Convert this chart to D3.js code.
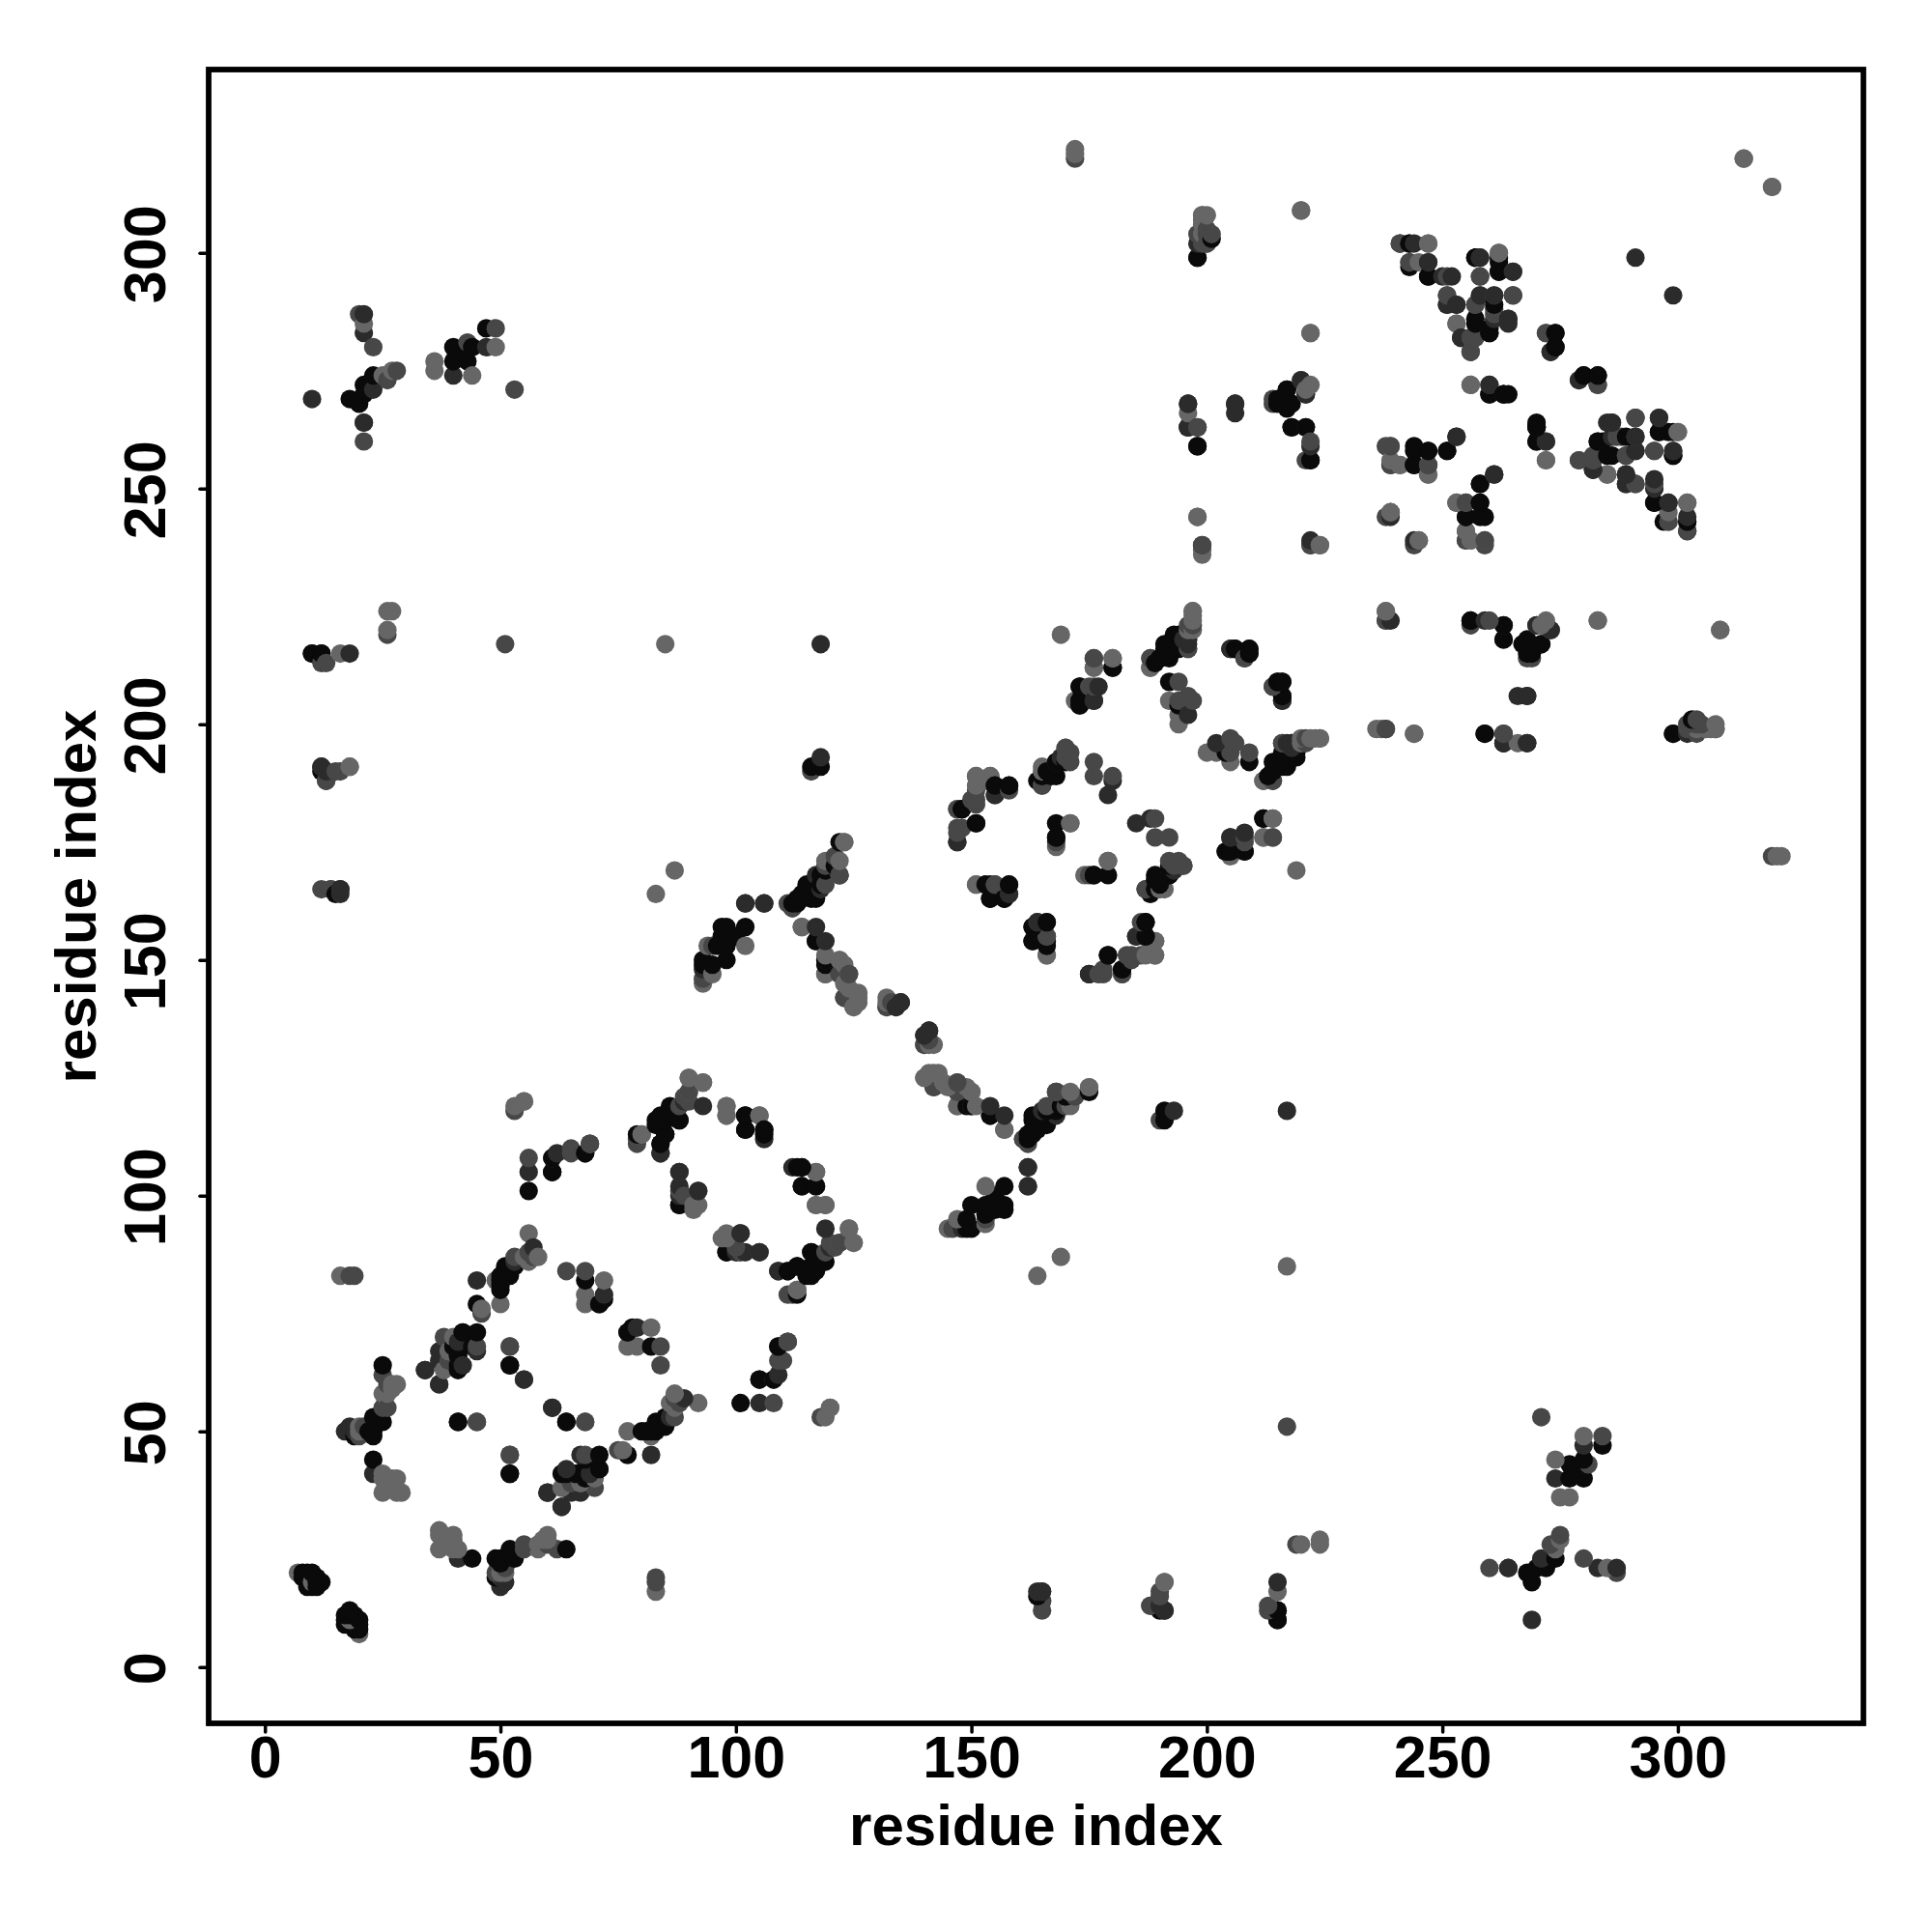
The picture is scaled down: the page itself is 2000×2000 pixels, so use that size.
<!DOCTYPE html>
<html><head><meta charset="utf-8">
<script src="https://cdn.jsdelivr.net/npm/d3@7"></script>
<style>html,body{margin:0;background:#fff}svg{display:block}text{font-family:"Liberation Sans",Arial,sans-serif;font-weight:700;fill:#000}</style>
</head><body><svg id="c" width="2000" height="2000"></svg>
<script>
const tickValues=[0,50,100,150,200,250,300];
const axisLabel="residue index";
const shades=["#0a0a0a","#2b2b2b","#474747","#666666"];
// contacts (i<j), mirrored when drawn; grouped by grey level
const contactsBlack=[[8,19],[8,20],[9,17],[9,18],[9,19],[9,20],[10,17],[10,20],[11,17],[11,18],[11,19],[12,18],[25,64],[19,49],[22,50],[23,50],[23,53],[25,52],[23,44],[23,49],[24,52],[41,63],[41,66],[42,71],[45,71],[40,68],[44,68],[41,64],[41,68],[45,77],[50,81],[50,83],[51,85],[52,83],[53,85],[51,84],[50,82],[50,80],[52,84],[41,52],[52,64],[52,41],[64,52],[68,82],[71,77],[72,78],[56,101],[61,105],[68,109],[98,157],[97,157],[102,157],[98,153],[96,153],[98,150],[95,149],[93,150],[97,155],[100,155],[93,149],[117,154],[119,149],[150,119],[154,117],[113,162],[116,163],[116,165],[118,168],[121,170],[122,175],[113,163],[114,164],[115,166],[117,165],[119,169],[112,162],[114,163],[117,163],[118,166],[86,119],[84,117],[88,116],[83,115],[85,113],[87,118],[86,117],[85,116],[87,117],[102,117],[102,114],[106,114],[106,113],[88,98],[116,88],[118,86],[115,84],[113,85],[111,84],[116,83],[113,79],[98,88],[105,61],[108,61],[117,102],[114,102],[114,106],[148,182],[155,187],[158,187],[151,179],[168,179],[168,176],[168,192],[167,189],[164,188],[166,190],[154,166],[154,163],[157,163],[163,157],[166,153],[163,154],[166,158],[173,208],[173,205],[173,204],[180,212],[190,214],[192,214],[191,217],[193,219],[194,216],[192,216],[189,213],[206,216],[209,216],[209,215],[192,209],[194,204],[216,209],[216,206],[215,209],[205,173],[208,173],[212,180],[176,168],[189,168],[189,165],[192,170],[187,158],[179,151],[182,148],[214,190],[215,192],[217,192],[219,194],[216,191],[218,193],[10,215],[12,215],[12,190],[15,164],[215,10],[215,12],[18,269],[20,268],[21,272],[21,270],[23,274],[40,280],[40,277],[43,277],[44,280],[47,284],[42,278],[198,299],[201,303],[198,259],[243,297],[247,295],[244,258],[244,255],[247,258],[251,258],[258,251],[258,247],[255,244],[259,244],[215,268],[218,268],[217,271],[216,269],[218,263],[222,256],[243,302],[257,285],[260,284],[260,283],[262,298],[262,296],[257,299],[260,270],[263,270],[264,270],[270,263],[270,260],[274,283],[274,280],[280,274],[283,274],[286,257],[283,260],[289,261],[295,247],[299,257],[299,262],[256,222],[263,218],[263,221],[269,215],[267,217],[271,217],[259,198],[299,198],[118,191],[191,116]];
const contactsDark=[[17,50],[18,51],[19,50],[23,41],[34,63],[37,60],[37,67],[42,64],[37,65],[60,37],[63,34],[66,41],[67,45],[69,41],[71,42],[45,82],[53,86],[57,89],[55,61],[72,79],[77,71],[56,105],[62,109],[102,162],[106,162],[93,148],[117,157],[119,154],[134,140],[135,141],[141,135],[140,134],[118,165],[117,168],[106,162],[93,119],[84,111],[84,109],[89,120],[106,112],[88,105],[101,92],[100,88],[102,88],[109,84],[109,68],[118,217],[118,193],[147,175],[169,193],[180,188],[179,185],[158,166],[158,164],[164,158],[177,208],[176,205],[196,218],[195,218],[196,217],[205,216],[196,202],[216,205],[176,205],[192,168],[185,155],[187,155],[175,147],[218,196],[219,196],[23,271],[21,287],[21,283],[21,264],[10,269],[16,164],[16,165],[18,215],[12,191],[190,13],[40,274],[47,280],[198,302],[291,299],[291,258],[244,302],[247,298],[250,295],[252,295],[258,299],[265,296],[253,289],[251,289],[254,282],[258,291],[261,291],[264,286],[264,285],[261,286],[279,273],[260,272],[196,268],[196,263],[206,268],[206,266],[221,270],[221,263],[222,259],[253,261],[261,253],[239,244],[286,264],[296,265],[296,262],[289,253],[289,251],[282,254],[298,247],[302,243],[196,263],[263,196],[268,206],[268,196],[270,221],[273,220],[222,239],[165,16],[191,12]];
const contactsMid=[[18,83],[19,83],[20,49],[21,51],[25,55],[26,55],[25,62],[26,60],[38,70],[45,68],[39,65],[52,68],[45,52],[52,45],[61,55],[68,52],[53,87],[56,88],[57,87],[46,75],[64,84],[68,84],[56,108],[65,109],[69,111],[53,118],[61,108],[111,162],[119,166],[119,170],[112,161],[121,172],[122,168],[93,146],[122,147],[123,142],[119,150],[132,140],[133,141],[140,132],[147,124],[161,112],[168,122],[90,122],[89,121],[90,120],[88,119],[79,112],[88,101],[92,101],[89,100],[120,89],[111,79],[105,88],[116,190],[111,69],[110,65],[102,162],[153,95],[151,186],[151,183],[155,185],[150,184],[147,178],[148,178],[171,194],[165,187],[171,192],[176,192],[176,189],[180,189],[168,175],[155,166],[166,155],[175,208],[176,214],[188,214],[196,216],[197,221],[194,209],[196,206],[194,205],[197,205],[214,208],[208,214],[204,173],[208,176],[214,176],[186,158],[184,151],[177,147],[182,147],[187,165],[193,170],[195,170],[221,196],[216,196],[12,213],[13,213],[13,188],[15,190],[16,190],[12,165],[14,165],[188,13],[51,217],[26,219],[165,14],[20,287],[21,264],[21,260],[23,280],[26,273],[28,275],[49,284],[43,281],[53,271],[201,304],[241,302],[243,298],[258,295],[251,291],[256,282],[256,279],[265,291],[257,289],[261,288],[257,282],[272,283],[273,279],[283,272],[198,263],[222,260],[221,256],[214,268],[220,273],[239,259],[239,255],[247,255],[255,247],[255,239],[259,238],[244,238],[199,238],[270,263],[272,260],[279,256],[282,256],[291,251],[295,251],[291,265],[299,258],[295,258],[289,257],[287,261],[291,261],[298,243],[302,241],[238,222],[238,199],[263,198],[302,200],[304,200],[305,200],[302,199],[304,198],[172,320],[269,214]];
const contactsLight=[[7,20],[10,18],[20,50],[20,51],[25,58],[26,58],[27,59],[28,60],[27,60],[25,41],[28,40],[25,37],[28,37],[29,37],[26,39],[27,40],[25,40],[39,67],[38,63],[40,70],[46,76],[50,77],[49,82],[56,92],[58,87],[55,87],[56,86],[72,82],[68,79],[68,77],[16,83],[55,120],[83,164],[87,169],[102,153],[94,153],[93,145],[95,147],[114,157],[122,150],[119,147],[124,147],[123,145],[126,143],[125,140],[126,141],[132,141],[142,132],[140,125],[142,126],[142,123],[144,124],[147,119],[149,123],[150,122],[151,119],[157,114],[171,119],[175,123],[122,171],[122,168],[123,175],[90,125],[93,124],[80,113],[98,119],[98,117],[105,117],[91,97],[92,98],[117,105],[117,98],[119,98],[124,93],[125,90],[122,90],[119,53],[120,55],[111,69],[113,80],[98,91],[85,217],[151,189],[154,189],[147,182],[153,188],[171,179],[165,190],[170,195],[151,166],[166,151],[176,212],[180,214],[172,205],[188,212],[197,224],[196,220],[197,222],[192,205],[194,202],[194,200],[169,219],[212,176],[214,180],[191,165],[179,171],[174,168],[187,151],[189,151],[189,154],[212,188],[214,188],[223,197],[224,197],[220,197],[16,215],[26,224],[26,220],[27,224],[18,191],[191,18],[21,285],[25,274],[27,275],[36,277],[36,275],[44,274],[49,280],[172,322],[172,321],[314,320],[320,314],[200,308],[199,308],[199,304],[200,302],[220,309],[222,283],[247,302],[245,298],[262,300],[256,272],[253,285],[253,247],[255,241],[256,239],[259,239],[241,255],[247,253],[239,245],[245,239],[198,244],[199,237],[224,238],[222,238],[272,256],[285,253],[291,265],[300,262],[302,247],[238,224],[236,199],[244,198],[266,196],[272,222],[271,221],[283,222],[309,220],[308,199],[307,199],[306,199],[241,302]];

const W=2000,H=2000,L=216,R=1929,T=72,B=1784;
const x=d3.scaleLinear().domain([-11.95,339.4]).range([L,R]);
const y=d3.scaleLinear().domain([-11.95,338.9]).range([B,T]);
const svg=d3.select("#c");
svg.append("rect").attr("width",W).attr("height",H).attr("fill","#fff");
const groups=[contactsLight,contactsMid,contactsDark,contactsBlack];
const greys=[shades[3],shades[2],shades[1],shades[0]];
const pts=[];
groups.forEach((g,k)=>g.forEach(([i,j])=>{pts.push({i,j,c:greys[k]});pts.push({i:j,j:i,c:greys[k]});}));
pts.sort((a,b)=>(Math.min(a.i,a.j)-Math.min(b.i,b.j))||(Math.max(a.i,a.j)-Math.max(b.i,b.j)));
svg.append("g").selectAll("circle").data(pts).join("circle")
 .attr("cx",d=>x(d.i)).attr("cy",d=>y(d.j)).attr("r",9.6).attr("fill",d=>d.c);
const ax=svg.append("g").attr("transform",`translate(0,${B})`).call(d3.axisBottom(x).tickValues(tickValues).tickSize(9).tickSizeOuter(0).tickPadding(0).tickFormat(d3.format("d")));
const ay=svg.append("g").attr("transform",`translate(${L},0)`).call(d3.axisLeft(y).tickValues(tickValues).tickSize(9).tickSizeOuter(0).tickFormat(d3.format("d")));
[ax,ay].forEach(a=>{a.select(".domain").remove();a.selectAll("line").attr("stroke","#000").attr("stroke-width",3.5).attr("stroke-linecap","round");a.selectAll("text").style("font-size","61px").attr("fill","#000");});
ax.selectAll("text").attr("dy",null).attr("y",56);
ay.selectAll("text").attr("dy",null).attr("x",null).attr("text-anchor","middle").attr("transform",()=>`translate(-45,1) rotate(-90)`);
svg.append("rect").attr("x",L).attr("y",T).attr("width",R-L).attr("height",B-T).attr("fill","none").attr("stroke","#000").attr("stroke-width",5.8);
svg.append("text").attr("x",(L+R)/2).attr("y",1910).attr("text-anchor","middle").style("font-size","60px").text(axisLabel);
svg.append("text").attr("transform",`translate(99,${(T+B)/2}) rotate(-90)`).attr("text-anchor","middle").style("font-size","60px").text(axisLabel);
</script></body></html>
